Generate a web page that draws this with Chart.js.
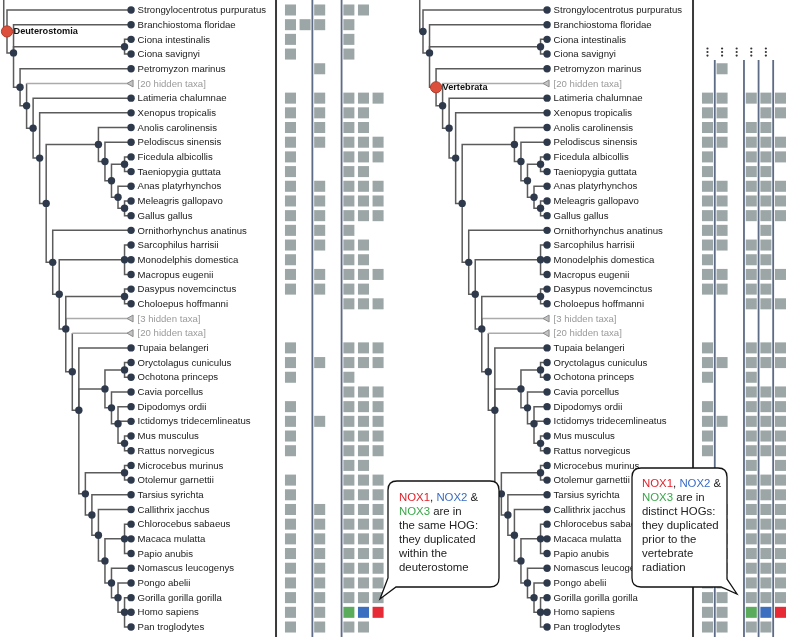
<!DOCTYPE html>
<html lang="en">
<head>
<meta charset="UTF-8">
<title>NOX1, NOX2, NOX3 hierarchical orthologous groups</title>
<script src="https://cdn.jsdelivr.net/npm/chart.js"></script>
<style>
  body { margin: 0; background: #fff; }
  #page { position: relative; width: 787px; height: 637px; overflow: hidden; }
  #page canvas, #page svg, .note { position: absolute; top: 0; }
  .note {
    font-family: "Liberation Sans", Arial, Helvetica, sans-serif;
    font-size: 11.4px;
    line-height: 14px;
    color: #222;
    white-space: nowrap;
  }
</style>
</head>
<body>
<div id="page">
  <canvas id="treeLeft" width="275" height="637" style="left:0"></canvas>
  <canvas id="cellsLeft" width="122" height="637" style="left:275px"></canvas>
  <canvas id="treeRight" width="292" height="637" style="left:400px"></canvas>
  <canvas id="cellsRight" width="95" height="637" style="left:692px"></canvas>

  <svg width="787" height="637" viewBox="0 0 787 637">
    <path d="M397 481 H490 Q499 481 499 490 V578 Q499 587 490 587 H396 L380 599 L388 578 V490 Q388 481 397 481 Z"
          fill="#fff" stroke="#111" stroke-width="1.3"/>
    <path d="M641 468 H718 Q727 468 727 477 V579 L737 594 L721 587 H641 Q632 587 632 578 V477 Q632 468 641 468 Z"
          fill="#fff" stroke="#111" stroke-width="1.3"/>
  </svg>

  <div class="note" style="left:399px; top:490px">
    <span style="color:#e3212b">NOX1</span>, <span style="color:#3a6cc4">NOX2</span> &amp;<br>
    <span style="color:#3aa64a">NOX3</span> are in<br>
    the same HOG:<br>
    they duplicated<br>
    within the<br>
    deuterostome
  </div>
  <div class="note" style="left:642px; top:476px">
    <span style="color:#e3212b">NOX1</span>, <span style="color:#3a6cc4">NOX2</span> &amp;<br>
    <span style="color:#3aa64a">NOX3</span> are in<br>
    distinct HOGs:<br>
    they duplicated<br>
    prior to the<br>
    vertebrate<br>
    radiation
  </div>
</div>

<script>
// leaf order, top to bottom
const speciesNames = [
  "Strongylocentrotus purpuratus", "Branchiostoma floridae", "Ciona intestinalis", "Ciona savignyi",
  "Petromyzon marinus", "[20 hidden taxa]", "Latimeria chalumnae", "Xenopus tropicalis",
  "Anolis carolinensis", "Pelodiscus sinensis", "Ficedula albicollis", "Taeniopygia guttata",
  "Anas platyrhynchos", "Meleagris gallopavo", "Gallus gallus", "Ornithorhynchus anatinus",
  "Sarcophilus harrisii", "Monodelphis domestica", "Macropus eugenii", "Dasypus novemcinctus",
  "Choloepus hoffmanni", "[3 hidden taxa]", "[20 hidden taxa]", "Tupaia belangeri",
  "Oryctolagus cuniculus", "Ochotona princeps", "Cavia porcellus", "Dipodomys ordii",
  "Ictidomys tridecemlineatus", "Mus musculus", "Rattus norvegicus", "Microcebus murinus",
  "Otolemur garnettii", "Tarsius syrichta", "Callithrix jacchus", "Chlorocebus sabaeus",
  "Macaca mulatta", "Papio anubis", "Nomascus leucogenys", "Pongo abelii",
  "Gorilla gorilla gorilla", "Homo sapiens", "Pan troglodytes"
];
const hiddenLeaves = [5, 21, 22];

// species tree: clade name, then children (leaf indices or clade names)
const clades = [
  ["Deuterostomia", 0, "Chordata"],
  ["Chordata", 1, "Ciona", "Vertebrata"],
  ["Ciona", 2, 3],
  ["Vertebrata", 4, "Gnathostomata"],
  ["Gnathostomata", 5, "Sarcopterygii"],
  ["Sarcopterygii", 6, "Tetrapoda"],
  ["Tetrapoda", 7, "Amniota"],
  ["Amniota", "Sauropsida", "Mammalia"],
  ["Sauropsida", 8, "Archelosauria"],
  ["Archelosauria", 9, "Aves"],
  ["Aves", "Passeriformes", "Galloanserae"],
  ["Passeriformes", 10, 11],
  ["Galloanserae", 12, "Galliformes"],
  ["Galliformes", 13, 14],
  ["Mammalia", 15, "Theria"],
  ["Theria", "Marsupialia", "Eutheria"],
  ["Marsupialia", 16, 17, 18],
  ["Eutheria", "Xenarthra", 21, "Boreoeutheria"],
  ["Xenarthra", 19, 20],
  ["Boreoeutheria", 22, "Euarchontoglires"],
  ["Euarchontoglires", 23, "Glires", "Primates"],
  ["Glires", "Lagomorpha", "Rodentia"],
  ["Lagomorpha", 24, 25],
  ["Rodentia", 26, "Rodentia2"],
  ["Rodentia2", 27, 28, "Muridae"],
  ["Muridae", 29, 30],
  ["Primates", "Strepsirrhini", "Haplorrhini"],
  ["Strepsirrhini", 31, 32],
  ["Haplorrhini", 33, "Simiiformes"],
  ["Simiiformes", 34, "Catarrhini"],
  ["Catarrhini", "Cercopithecidae", "Hominoidea"],
  ["Cercopithecidae", 35, 36, 37],
  ["Hominoidea", 38, "Hominidae"],
  ["Hominidae", 39, "Homininae"],
  ["Homininae", 40, 41, 42]
];

// gene columns present per species (left: one HOG, right: separate HOGs)
const leftCells = [
  [0,2,4,5], [0,1,2,4], [0,4], [0,4], [2], [],
  [0,2,4,5,6], [0,2,4,5], [0,2,4,5], [0,2,4,5,6], [0,4,5,6], [0,4,5],
  [0,2,4,5,6], [0,2,4,5,6], [0,2,4,5,6], [0,2,4], [0,2,4,5], [0,4,5],
  [0,2,4,5,6], [0,2,4,5], [4,5,6], [], [], [0,4,5,6],
  [0,2,4,5,6], [0,4], [4,5,6], [0,4,5,6], [0,2,4,5,6], [0,4,5,6],
  [0,4,5,6], [4,5], [0,4,5,6], [0,4,5,6], [0,2,4,5,6], [0,2,4,5,6],
  [0,2,4,5,6], [0,2,4,5,6], [0,2,4,5,6], [0,2,4,5,6], [0,2,4,5,6], [0,2,4,5,6],
  [0,2,4,5]
];
const rightCells = [
  [], [], [], [], [1], [],
  [0,1,3,4,5], [0,1,4,5], [0,1,3,4], [0,1,3,4,5], [0,3,4,5], [0,3,4],
  [0,1,3,4,5], [0,1,3,4,5], [0,1,3,4,5], [0,1,4], [0,1,3,4], [0,3,4],
  [0,1,3,4,5], [0,1,3,4], [3,4,5], [], [], [0,3,4,5],
  [0,1,3,4,5], [0,3], [3,4,5], [0,3,4,5], [0,1,3,4,5], [0,3,4,5],
  [0,3,4,5], [3,5], [0,3,4,5], [0,3,4,5], [0,1,3,4,5], [0,1,3,4,5],
  [0,1,3,4,5], [0,1,3,4,5], [0,1,3,4,5], [0,1,3,4,5], [0,1,3,4,5], [0,1,3,4,5],
  [0,1,3,4]
];

// human NOX genes, coloured
const noxGenes = ["NOX3", "NOX2", "NOX1"];
const noxColors = ["#5aab5c", "#3b6fc0", "#e62a36"];
const noxRow = 41;
const leftNoxCols = [4, 5, 6];
const rightNoxCols = [3, 4, 5];

// column boundaries with thin lines, and columns with a continuation mark
const leftDividers = [1.5, 3.5];
const rightDividers = [0.5, 2.5, 3.5, 4.5];
const rightDotCols = [0, 1, 2, 3, 4];

const yMin = -0.68, yMax = 42.68;
const treeUnit = 6.53, cellUnit = 14.6;
const edgeColor = "#5b5b5b", hiddenEdgeColor = "#ababab", nodeColor = "#2e3a4c";
const font = '"Liberation Sans", Arial, Helvetica, sans-serif';

function baseOptions(xMin, xMax) {
  return {
    responsive: false,
    animation: false,
    events: [],
    layout: { padding: 0, autoPadding: false },
    plugins: { legend: { display: false }, tooltip: { enabled: false } },
    scales: {
      x: { type: "linear", min: xMin, max: xMax, display: false },
      y: { type: "linear", min: yMin, max: yMax, reverse: true, display: false }
    }
  };
}

function segment(points, color, width) {
  return { data: points, showLine: true, borderColor: color, borderWidth: width || 1.5,
           pointRadius: 0, fill: false, order: 3 };
}

// d3-cluster style layout: leaves aligned, parents at mean of children
function buildTree() {
  const kidsOf = {};
  clades.forEach(c => { kidsOf[c[0]] = c.slice(1); });
  const nodes = [];
  const visit = id => {
    if (typeof id === "number") {
      const leaf = { leaf: id, y: id, h: 0 };
      nodes.push(leaf);
      return leaf;
    }
    const kids = kidsOf[id].map(visit);
    const node = {
      name: id, kids,
      y: kids.reduce((s, k) => s + k.y, 0) / kids.length,
      h: 1 + Math.max(...kids.map(k => k.h))
    };
    nodes.push(node);
    return node;
  };
  const root = visit(clades[0][0]);
  nodes.forEach(n => { n.x = root.h - n.h; });
  return { root, nodes };
}

function makeTree(id, highlight, xMin) {
  const canvas = document.getElementById(id);
  const { root, nodes } = buildTree();
  const isHidden = n => n.leaf !== undefined && hiddenLeaves.includes(n.leaf);
  const datasets = [];

  datasets.push(segment([{ x: -0.5, y: -3 }, { x: -0.5, y: root.y }, { x: 0, y: root.y }], edgeColor));
  nodes.forEach(n => {
    if (!n.kids) return;
    n.kids.forEach(k => {
      if (isHidden(k)) {
        datasets.push(segment([{ x: n.x, y: k.y }, { x: k.x, y: k.y }], hiddenEdgeColor));
        datasets.push(segment([{ x: n.x, y: n.y }, { x: n.x, y: k.y }], edgeColor));
      } else {
        datasets.push(segment([{ x: n.x, y: n.y }, { x: n.x, y: k.y }, { x: k.x, y: k.y }], edgeColor));
      }
    });
  });

  const pt = n => ({ x: n.x, y: n.y });
  datasets.push({
    data: nodes.filter(n => n.name !== highlight && !isHidden(n)).map(pt),
    pointRadius: 3.7, pointBackgroundColor: nodeColor, pointBorderWidth: 0, order: 2
  });
  datasets.push({
    data: nodes.filter(isHidden).map(pt),
    pointStyle: "triangle", rotation: -90, pointRadius: 4,
    pointBackgroundColor: "#c4c4c4", pointBorderColor: "#8a8a8a", pointBorderWidth: 1, order: 2
  });
  datasets.push({
    data: nodes.filter(n => n.name === highlight).map(pt),
    pointRadius: 5.6, pointBackgroundColor: "#dc4f3b", pointBorderColor: "#b13b2a",
    pointBorderWidth: 1, order: 1
  });

  const labels = {
    id: "labels",
    afterDatasetsDraw(chart) {
      const { ctx, scales: { x, y } } = chart;
      ctx.save();
      ctx.textBaseline = "middle";
      ctx.font = "9.6px " + font;
      speciesNames.forEach((name, i) => {
        ctx.fillStyle = hiddenLeaves.includes(i) ? "#9a9a9a" : "#222";
        ctx.fillText(name, x.getPixelForValue(root.h) + 6.5, y.getPixelForValue(i) + 0.5);
      });
      const h = nodes.find(n => n.name === highlight);
      ctx.font = "bold 9.2px " + font;
      ctx.fillStyle = "#111";
      ctx.fillText(highlight, x.getPixelForValue(h.x) + 6.5, y.getPixelForValue(h.y) + 0.5);
      ctx.restore();
    }
  };

  new Chart(canvas, {
    type: "scatter",
    data: { datasets },
    options: baseOptions(xMin, xMin + canvas.width / treeUnit),
    plugins: [labels]
  });
}

function makeCells(id, cells, noxCols, dividers, dividerTop, dotCols) {
  const canvas = document.getElementById(id);
  const xMin = -1.06;
  const gray = [];
  cells.forEach((cols, r) => cols.forEach(c => {
    if (!(r === noxRow && noxCols.includes(c))) gray.push({ x: c, y: r });
  }));
  const datasets = [];
  datasets.push({
    data: gray, pointStyle: "rect", pointRadius: 7.8,
    pointBackgroundColor: "#9ca6a6", pointBorderWidth: 0, order: 2
  });
  datasets.push({
    data: noxCols.map(c => ({ x: c, y: noxRow })), pointStyle: "rect", pointRadius: 7.8,
    pointBackgroundColor: noxColors, pointBorderWidth: 0, order: 2
  });
  dividers.forEach(b => {
    datasets.push(Object.assign(segment([{ x: b, y: dividerTop }, { x: b, y: yMax + 1 }], "#5d6b86", 1.8), { order: 1 }));
  });
  datasets.push(Object.assign(segment([{ x: -0.99, y: yMin - 1 }, { x: -0.99, y: yMax + 1 }], "#3a3a3a", 2), { order: 1 }));
  if (dotCols.length) {
    const marks = [];
    dotCols.forEach(c => [2.62, 2.86, 3.1].forEach(r => marks.push({ x: c, y: r })));
    datasets.push({ data: marks, pointRadius: 1.1, pointBackgroundColor: "#333", pointBorderWidth: 0, order: 1 });
  }
  new Chart(canvas, {
    type: "scatter",
    data: { datasets },
    options: baseOptions(xMin, xMin + canvas.width / cellUnit)
  });
}

makeTree("treeLeft", "Deuterostomia", -7 / treeUnit);
makeTree("treeRight", "Vertebrata", -23 / treeUnit);
makeCells("cellsLeft", leftCells, leftNoxCols, leftDividers, yMin - 1, []);
makeCells("cellsRight", rightCells, rightNoxCols, rightDividers, 3.4, rightDotCols);
</script>
</body>
</html>
